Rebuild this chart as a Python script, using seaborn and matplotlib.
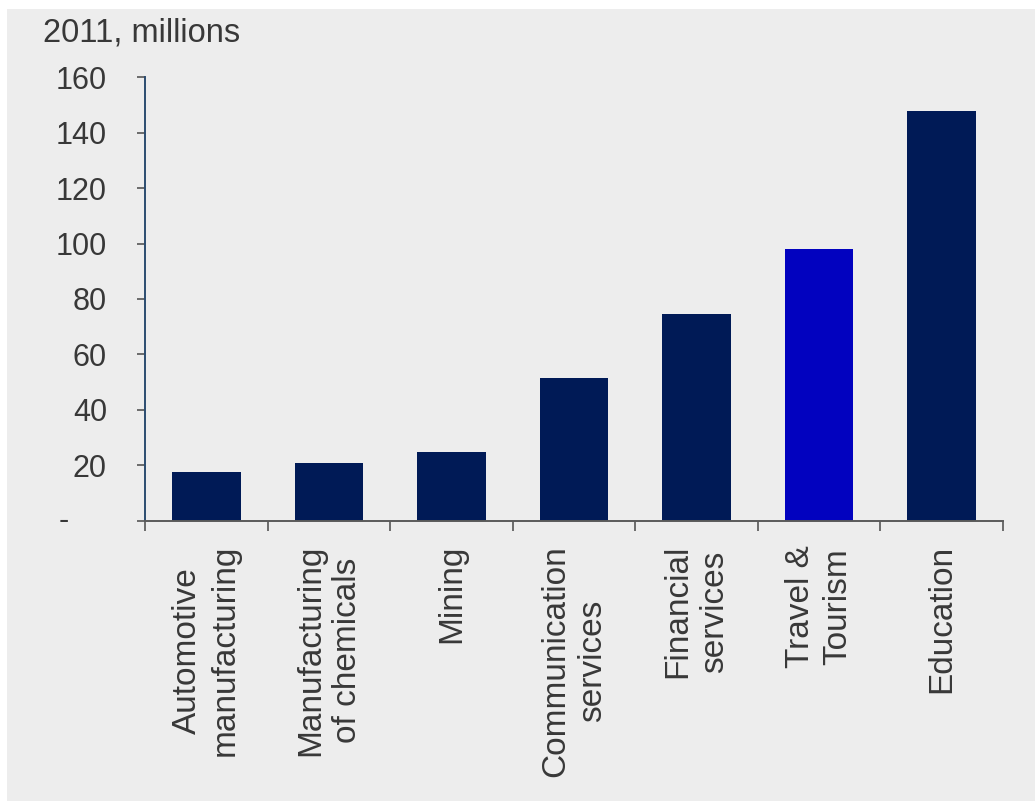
import matplotlib
matplotlib.use("Agg")
import matplotlib.pyplot as plt
from matplotlib.patches import Rectangle
from matplotlib.transforms import blended_transform_factory
import seaborn as sns
import pandas as pd

# Sector employment, 2011 (millions)
sectors = [
    "Automotive\nmanufacturing",
    "Manufacturing\nof chemicals",
    "Mining",
    "Communication\nservices",
    "Financial\nservices",
    "Travel &\nTourism",
    "Education",
]
values = [17.4, 20.6, 24.8, 51.4, 74.5, 98.1, 147.8]
bar_colors = ["#001a56", "#001a56", "#001a56", "#001a56", "#001a56", "#0202bf", "#001a56"]
y_ticks = [0, 20, 40, 60, 80, 100, 120, 140, 160]
y_tick_labels = ["", "20", "40", "60", "80", "100", "120", "140", "160"]
title = "2011, millions"

sns.set_theme(style="white")
plt.rcParams["font.family"] = ["Liberation Sans", "DejaVu Sans"]

text_color = "#383838"
bg = "#ededed"

fig = plt.figure(figsize=(10.35, 8.01), dpi=100, facecolor="white")
# grey panel inside the thin white frame
fig.patches.append(Rectangle((7 / 1035, 0), 1, 1 - 9 / 801, transform=fig.transFigure,
                             facecolor=bg, edgecolor="none", zorder=-5))

ax = fig.add_axes([145 / 1035, 1 - 520.5 / 801, (1003 - 145) / 1035, (520.5 - 77.3) / 801])
ax.set_facecolor(bg)

df = pd.DataFrame({"sector": sectors, "value": values})
sns.barplot(data=df, x="sector", y="value", hue="sector",
            palette=dict(zip(sectors, bar_colors)), width=0.56,
            saturation=1, legend=False, ax=ax, edgecolor="none")

ax.set_xlim(-0.5, len(sectors) - 0.5)
ax.set_ylim(0, 160)

# y axis
ax.set_yticks(y_ticks)
ax.set_yticklabels(y_tick_labels)
ax.tick_params(axis="y", which="major", direction="out", length=5.8, width=1.2,
               color="#555555", pad=21.6, labelsize=22, labelcolor=text_color, left=True)
trans = blended_transform_factory(ax.transAxes, ax.transData)
ax.text(-0.095, 0, "-", transform=trans, ha="center", va="center",
        fontsize=22, color=text_color)

# x axis: category labels centred, tick marks on the category boundaries
ax.set_xticks(range(len(sectors)))
ax.set_xticklabels(sectors, rotation=90, fontsize=24, color=text_color,
                   linespacing=1.25, ha="center", va="top")
ax.tick_params(axis="x", which="major", length=0, pad=17.6)
ax.set_xticks([i - 0.5 for i in range(len(sectors) + 1)], minor=True)
ax.tick_params(axis="x", which="minor", direction="out", length=7, width=1.2,
               color="#555555", bottom=True)
ax.set_xlabel("")
ax.set_ylabel("")

for side in ["top", "right"]:
    ax.spines[side].set_visible(False)
ax.spines["left"].set_color("#2b4c70")
ax.spines["left"].set_linewidth(1.4)
ax.spines["bottom"].set_color("#5a5a5a")
ax.spines["bottom"].set_linewidth(1.4)

fig.text(43 / 1035, 1 - 41 / 801, title, fontsize=23.5, color=text_color,
         ha="left", va="baseline")

fig.savefig("out.png", dpi=100, facecolor=fig.get_facecolor())
